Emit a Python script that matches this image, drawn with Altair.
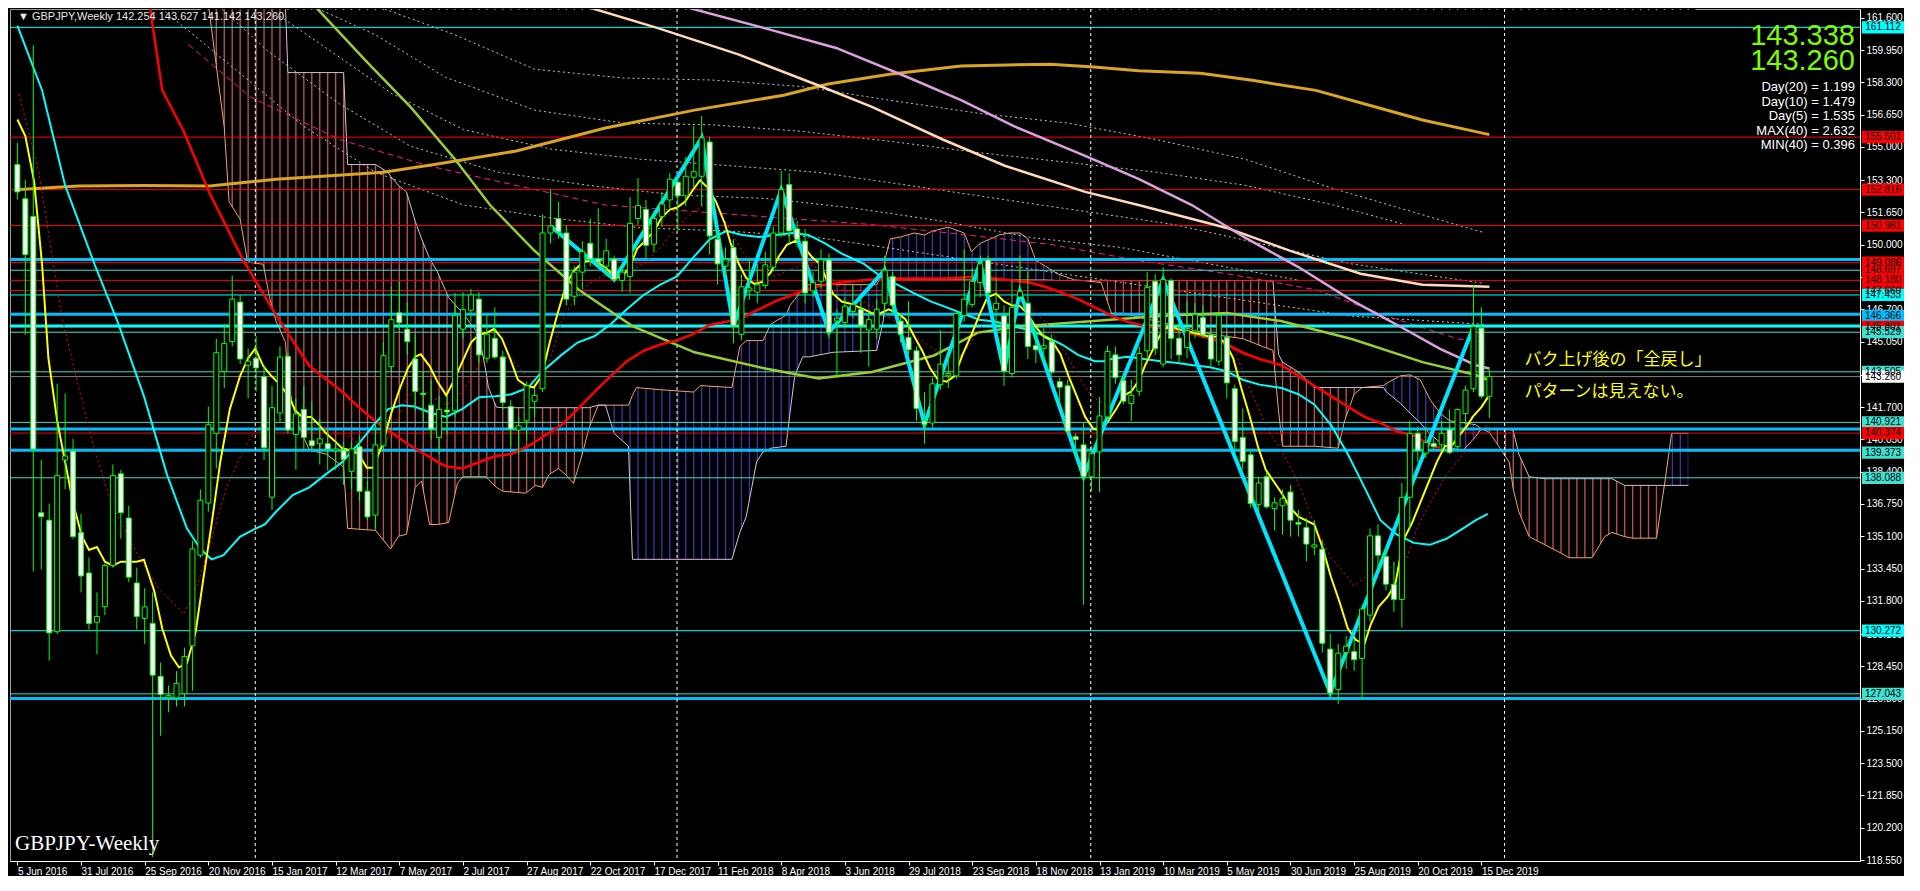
import altair as alt
import pandas as pd

W, H = 1850, 852
X_DOMAIN = [-0.3, 230.95]
Y_DOMAIN = [118.50, 162.05]

# ---------------- weekly candles (week 0 = 5 Jun 2016) ----------------
opens = [154.1, 152.35, 151.45, 136.3, 135.92, 130.22, 139.0, 139.45, 135.29, 133.22,
         130.7, 131.5, 133.6, 138.29, 136.03, 132.71, 130.9, 130.64, 127.94, 126.85,
         126.84, 127.05, 129.5, 134.13, 136.8, 140.36, 143.53, 145.05, 147.07, 143.84,
         144.2, 143.27, 137.1, 141.4, 144.3, 140.3, 141.58, 139.98, 139.83, 139.83,
         139.47, 139.51, 138.42, 139.68, 137.4, 136.18, 139.72, 143.78, 146.52, 145.68,
         144.16, 142.41, 141.8, 140.15, 141.55, 141.52, 145.68, 146.65, 147.22, 144.2,
         145.22, 144.26, 141.73, 140.53, 141.0, 142.0, 142.64, 150.6, 151.34, 150.6,
         147.37, 148.6, 150.07, 149.27, 148.9, 149.27, 148.17, 148.38, 151.34, 151.8,
         150.03, 151.45, 152.29, 153.2, 152.5, 153.45, 153.5, 155.25, 150.28, 148.91,
         149.86, 145.43, 147.65, 147.58, 147.92, 148.85, 150.6, 153.07, 150.81, 150.18,
         147.64, 148.13, 149.23, 146.1, 146.02, 146.59, 146.7, 145.64, 145.68, 147.01,
         148.38, 146.1, 145.26, 144.58, 140.99, 140.89, 142.85, 143.3, 143.3, 146.38,
         146.95, 148.07, 149.23, 146.7, 146.38, 143.42, 147.33, 147.01, 144.84, 144.7,
         145.05, 143.0, 142.79, 140.19, 139.77, 138.14, 139.41, 141.2, 144.37, 143.06,
         141.88, 142.51, 144.58, 148.13, 143.9, 148.17, 145.22, 144.75, 145.6, 146.27,
         145.39, 144.05, 145.26, 142.64, 140.15, 139.26, 136.73, 138.14, 136.51, 136.66,
         137.36, 135.8, 135.54, 134.55, 134.44, 129.33, 127.26, 129.16, 129.2, 128.85,
         131.07, 135.12, 134.07, 132.65, 131.87, 137.09, 140.36, 139.34, 139.85, 139.77,
         140.57, 139.68, 141.37, 142.64, 145.74, 142.254]
highs = [155.2, 153.3, 160.2, 139.0, 136.77, 142.9, 142.4, 140.08, 136.24, 134.02,
         132.23, 133.7, 138.77, 138.5, 136.66, 133.5, 132.44, 132.23, 128.64, 127.47,
         128.2, 129.4, 134.87, 137.5, 141.73, 145.2, 145.95, 148.43, 147.43, 144.69,
         145.32, 143.84, 142.79, 144.8, 144.48, 142.15, 142.79, 142.0, 141.1, 140.57,
         139.94, 139.94, 139.94, 140.25, 137.93, 140.89, 145.0, 147.85, 148.13, 147.07,
         145.43, 143.53, 143.1, 142.26, 142.3, 147.54, 147.58, 147.75, 147.58, 146.48,
         146.8, 144.58, 142.05, 141.2, 143.0, 142.68, 151.55, 152.82, 152.2, 151.0,
         148.9, 150.18, 151.34, 151.87, 150.3, 149.44, 149.02, 152.44, 153.41, 152.29,
         151.76, 152.71, 153.66, 153.45, 154.5, 156.09, 156.58, 155.52, 150.81, 149.86,
         150.28, 148.49, 149.33, 149.02, 149.65, 150.92, 153.77, 153.66, 151.23, 150.81,
         148.6, 149.76, 149.55, 146.7, 147.33, 147.96, 147.22, 146.59, 147.22, 149.44,
         148.6, 146.48, 147.12, 144.8, 142.47, 143.21, 145.64, 144.37, 146.59, 149.76,
         148.8, 149.34, 149.44, 148.28, 146.9, 148.17, 149.44, 148.63, 145.74, 145.74,
         145.43, 143.21, 143.1, 140.36, 140.89, 139.72, 142.22, 144.84, 144.8, 143.32,
         143.1, 144.8, 148.6, 148.49, 148.85, 148.28, 146.06, 147.12, 147.01, 146.9,
         145.74, 146.48, 145.43, 142.85, 141.63, 139.56, 138.14, 138.35, 137.09, 137.5,
         137.72, 136.45, 136.03, 135.92, 134.87, 130.11, 129.59, 130.01, 129.8, 131.6,
         135.5, 135.71, 134.55, 133.81, 137.82, 140.99, 140.68, 140.68, 140.15, 140.99,
         141.58, 141.63, 142.79, 147.96, 146.8, 143.627]
lows = [152.3, 145.4, 133.3, 133.4, 128.74, 130.1, 137.5, 134.97, 132.23, 130.33,
        129.06, 131.07, 133.5, 134.97, 132.75, 130.33, 129.6, 118.7, 124.9, 126.1,
        126.4, 126.4, 127.2, 134.0, 136.35, 138.56, 142.68, 144.8, 143.9, 142.15,
        142.5, 138.99, 136.45, 140.9, 140.36, 138.5, 139.5, 139.4, 138.77, 138.46,
        138.5, 137.72, 137.5, 136.9, 135.92, 135.5, 139.5, 143.5, 145.64, 144.37,
        141.52, 141.0, 140.04, 139.3, 140.3, 141.2, 145.2, 146.06, 143.95, 143.95,
        144.16, 141.6, 139.7, 139.3, 140.04, 141.2, 142.47, 150.07, 150.3, 146.9,
        146.9, 147.75, 148.9, 148.8, 148.38, 148.07, 147.58, 147.54, 151.02, 149.33,
        149.61, 150.92, 151.76, 150.7, 151.97, 152.9, 151.97, 149.5, 147.96, 148.38,
        144.96, 145.11, 147.2, 147.01, 147.75, 148.64, 150.39, 150.07, 149.86, 147.01,
        147.33, 147.8, 145.22, 143.2, 145.74, 146.27, 144.48, 143.78, 145.22, 146.31,
        146.38, 145.0, 144.37, 140.99, 139.83, 140.67, 142.57, 142.68, 143.15, 146.06,
        146.8, 147.33, 147.22, 145.9, 142.79, 143.21, 147.12, 144.16, 143.95, 143.95,
        143.32, 141.84, 140.36, 139.09, 131.6, 137.4, 137.36, 140.99, 142.89, 141.84,
        140.99, 142.26, 144.27, 144.37, 143.74, 144.16, 143.95, 144.2, 145.22, 145.22,
        143.78, 143.84, 142.15, 139.51, 138.5, 136.56, 136.35, 136.52, 135.4, 135.18,
        135.08, 135.08, 133.81, 134.13, 129.16, 126.84, 126.52, 128.32, 128.22, 126.74,
        130.75, 133.39, 132.33, 131.24, 130.43, 135.46, 138.88, 139.09, 139.51, 139.51,
        139.3, 139.51, 140.78, 142.47, 142.15, 141.142]
closes = [152.7, 149.5, 139.56, 136.1, 130.16, 138.2, 139.2, 135.08, 133.07, 130.64,
          131.0, 133.6, 138.2, 136.3, 133.01, 131.0, 131.49, 128.0, 127.01, 126.95,
          127.58, 128.95, 134.45, 136.94, 140.8, 144.48, 144.96, 147.22, 144.16, 144.05,
          143.7, 139.62, 141.67, 144.26, 140.53, 141.35, 140.15, 139.73, 140.08, 139.56,
          139.56, 139.03, 139.56, 137.4, 136.09, 139.77, 144.33, 146.17, 146.02, 145.05,
          142.5, 142.35, 140.57, 141.58, 141.45, 146.38, 146.7, 147.43, 144.37, 145.43,
          144.26, 141.94, 140.57, 140.74, 142.79, 142.3, 150.6, 150.96, 150.66, 147.22,
          148.6, 149.65, 149.27, 149.12, 149.69, 148.22, 148.6, 151.09, 152.0, 149.97,
          151.34, 152.08, 153.35, 152.5, 153.5, 153.73, 155.46, 150.45, 149.02, 149.23,
          145.85, 147.85, 147.79, 147.96, 148.97, 150.6, 152.82, 150.71, 150.28, 147.54,
          148.07, 149.23, 145.53, 146.25, 146.86, 146.95, 145.85, 146.17, 146.7, 148.7,
          146.9, 145.43, 144.63, 141.63, 140.82, 142.89, 143.9, 143.42, 146.48, 147.22,
          148.13, 149.02, 147.54, 147.01, 143.53, 146.8, 147.6, 144.8, 144.63, 144.84,
          143.49, 142.72, 140.46, 140.04, 138.14, 139.34, 141.25, 144.54, 143.21, 142.0,
          142.3, 144.44, 147.81, 144.69, 148.22, 145.22, 144.37, 145.6, 146.44, 145.39,
          144.16, 146.38, 142.94, 139.94, 138.92, 136.77, 137.82, 136.6, 136.81, 137.02,
          135.92, 135.72, 134.7, 134.66, 129.63, 127.09, 129.12, 129.48, 128.79, 131.38,
          135.12, 134.13, 132.65, 131.87, 137.09, 140.36, 139.47, 139.9, 139.68, 140.36,
          139.39, 141.58, 142.57, 145.81, 142.26, 143.26]
weeks = list(range(len(opens)))

date_ticks = list(range(0, 185, 8))
date_labels = ["5 Jun 2016", "31 Jul 2016", "25 Sep 2016", "20 Nov 2016", "15 Jan 2017",
               "12 Mar 2017", "7 May 2017", "2 Jul 2017", "27 Aug 2017", "22 Oct 2017",
               "17 Dec 2017", "11 Feb 2018", "8 Apr 2018", "3 Jun 2018", "29 Jul 2018",
               "23 Sep 2018", "18 Nov 2018", "13 Jan 2019", "10 Mar 2019", "5 May 2019",
               "30 Jun 2019", "25 Aug 2019", "20 Oct 2019", "15 Dec 2019"]
price_ticks = [118.55, 120.2, 121.85, 123.5, 125.15, 126.8, 128.45, 130.1, 131.8, 133.45,
               135.1, 136.75, 138.4, 140.05, 141.7, 143.35, 145.05, 146.7, 148.35, 150.0,
               151.65, 153.3, 155.0, 156.65, 158.3, 159.95, 161.6]

# ---------------- moving averages ----------------
yellow_w = [0, 1.0, 2.1, 3.1, 3.9, 5.0, 6.0, 7.0, 8.1, 9.0, 10.0, 11.0, 12.0, 13.0, 14.1, 15.0, 15.9,
            17.2, 18.2, 19.3, 20.3, 21.3, 22.4, 23.4, 24.4, 25.5, 26.7, 28.0, 29.0, 29.9, 30.9, 31.9,
            32.9, 34.0, 35.0, 35.8, 36.9, 37.9, 38.7, 39.8, 40.8, 41.8, 42.9, 43.9, 44.7, 45.8, 47.0,
            48.1, 49.1, 50.1, 50.7, 51.8, 52.8, 53.9, 54.9, 55.9, 57.0, 58.0, 59.0, 59.9, 60.9, 61.9,
            62.9, 63.9, 64.9, 65.9, 66.9, 67.9, 69.0, 70.0, 71.1, 72.1, 72.9, 74.0, 75.0, 75.8, 76.9,
            77.9, 78.9, 80.0, 81.0, 82.0, 82.9, 83.9, 84.9, 85.8, 86.8, 87.8, 88.9, 89.7, 90.7, 91.6,
            92.6, 93.6, 94.7, 95.7, 96.7, 97.8, 98.8, 99.8, 100.9, 101.7, 102.5, 103.6, 104.6, 106.4,
            107.4, 108.5, 109.5, 110.6, 111.6, 112.6, 113.7, 114.7, 115.7, 116.8, 117.8, 118.8, 119.9,
            120.9, 121.9, 123.0, 124.0, 125.0, 125.9, 126.9, 127.9, 129.0, 130.0, 131.1, 132.1, 133.1,
            134.2, 135.2, 136.2, 137.1, 138.1, 139.1, 140.0, 141.0, 141.8, 142.9, 143.9, 144.9, 145.8,
            146.8, 147.8, 148.9, 149.9, 150.7, 151.8, 152.8, 153.8, 154.9, 155.9, 156.9, 158.9, 159.9,
            161.0, 162.0, 163.0, 164.1, 165.1, 166.2, 167.2, 168.2, 169.3, 170.1, 171.1, 172.2, 173.2,
            174.2, 175.3, 176.3, 177.3, 178.4, 179.4, 180.4, 181.5, 182.3, 182.9, 184.0, 184.8]
yellow_v = [156.4, 155.56, 153.24, 149.0, 144.2, 141.0, 138.9, 136.8, 135.1, 134.4, 134.55, 133.8, 133.6,
            133.8, 133.8, 133.8, 133.9, 132.3, 130.4, 129.0, 128.4, 128.6, 130.2, 133.0, 135.7, 138.9,
            141.6, 143.3, 144.2, 144.7, 143.8, 143.3, 142.9, 142.3, 141.5, 141.2, 141.2, 140.8, 140.4,
            140.0, 139.6, 139.5, 139.3, 138.6, 138.6, 139.7, 141.4, 142.7, 143.7, 144.3, 144.4, 143.8,
            143.0, 142.3, 143.1, 144.0, 145.0, 145.4, 145.5, 145.7, 145.2, 144.2, 143.1, 142.8, 142.7,
            143.3, 145.0, 146.5, 148.0, 148.7, 149.1, 149.2, 149.1, 148.8, 148.4, 148.3, 148.8, 149.8,
            150.2, 150.7, 151.4, 151.8, 151.9, 152.2, 152.8, 153.3, 152.9, 152.2, 151.1, 150.0, 149.0,
            148.3, 148.0, 148.1, 148.6, 149.4, 150.0, 150.2, 149.9, 149.4, 149.0, 148.2, 147.5, 147.1,
            147.0, 146.7, 146.5, 146.5, 146.7, 146.5, 146.2, 145.4, 144.6, 143.7, 143.1, 143.0, 143.3,
            144.4, 145.4, 146.4, 147.3, 147.5, 147.1, 146.9, 146.9, 146.5, 145.85, 145.3, 145.1, 144.4,
            143.3, 142.3, 141.2, 140.6, 140.5, 141.0, 141.6, 142.3, 142.5, 143.1, 143.9, 144.8, 145.6,
            145.85, 145.7, 145.6, 145.5, 145.4, 145.3, 145.3, 145.0, 144.2, 142.7, 141.2, 139.7, 138.5,
            137.3, 136.6, 136.1, 135.9, 135.7, 134.44, 133.0, 131.7, 130.4, 129.8, 129.6, 130.6, 131.5,
            132.0, 132.7, 134.9, 135.8, 136.8, 137.8, 138.9, 139.7, 139.8, 140.4, 140.8, 141.2, 141.7,
            142.2]

cyan_w = [0, 3.1, 6.0, 9.7, 12.6, 15.9, 18.8, 21.3, 23.0, 24.4, 25.9, 28.0, 30.0, 31.1, 32.5, 34.6,
          36.7, 38.7, 40.8, 42.9, 45.0, 46.6, 48.3, 49.9, 52.0, 53.9, 55.9, 58.0, 60.1, 62.1, 64.2,
          65.9, 68.4, 70.4, 72.5, 74.6, 76.6, 78.7, 80.8, 82.9, 84.9, 87.0, 89.1, 91.1, 93.2, 95.3,
          97.4, 99.4, 101.5, 103.6, 106.4, 108.5, 110.6, 112.6, 114.7, 116.8, 118.8, 120.9, 123.0,
          125.0, 127.1, 129.2, 131.3, 133.3, 135.4, 136.6, 137.5, 139.5, 141.6, 143.7, 145.8, 147.8,
          149.9, 152.0, 154.0, 156.1, 158.9, 161.0, 163.0, 165.1, 167.2, 169.3, 171.3, 173.4, 175.5,
          177.5, 179.6, 181.7, 183.3, 184.8]
cyan_v = [161.2, 157.9, 153.03, 149.0, 146.06, 142.26, 138.25, 135.5, 134.45, 133.92, 134.13, 135.08,
          135.5, 135.7, 136.35, 137.2, 137.6, 138.25, 138.88, 139.83, 140.89, 141.6, 141.8, 141.73,
          141.4, 141.2, 141.6, 142.2, 142.26, 142.36, 142.7, 143.5, 144.37, 145.0, 145.32, 145.95,
          146.7, 147.43, 147.96, 148.38, 149.33, 150.28, 150.7, 150.5, 150.39, 150.5, 150.6, 150.5,
          150.07, 149.55, 149.02, 148.38, 147.96, 147.54, 147.12, 146.8, 146.48, 146.17, 146.06,
          145.85, 145.64, 145.32, 144.9, 144.37, 144.05, 144.05, 144.16, 144.27, 144.16, 144.05,
          143.95, 143.84, 143.74, 143.53, 143.1, 142.85, 142.68, 142.36, 141.84, 140.78, 139.3,
          137.6, 135.92, 135.18, 134.76, 134.66, 134.97, 135.5, 135.92, 136.24]

red_w = [16.5, 18.2, 20.9, 24.2, 28.4, 32.5, 36.7, 40.8, 42.9, 44.9, 47.0, 49.1, 51.2, 52.8, 53.9,
         55.9, 58.0, 60.1, 62.1, 64.2, 66.3, 68.4, 70.4, 72.5, 74.6, 76.6, 78.7, 80.8, 82.9, 84.9,
         87.0, 89.1, 91.1, 93.2, 95.3, 97.4, 99.4, 101.5, 103.6, 108.5, 112.6, 116.8, 120.9, 125.0,
         127.1, 129.2, 131.3, 133.3, 135.4, 137.5, 139.5, 141.6, 143.7, 145.8, 147.8, 149.9, 152.0,
         154.0, 156.1, 158.9, 161.0, 163.0, 165.1, 167.2, 169.3, 171.3, 173.4, 175.5, 177.5, 178.8]
red_v = [162.6, 157.9, 155.8, 152.6, 149.2, 146.4, 143.8, 142.5, 141.7, 141.0, 140.4, 139.8, 139.3,
         138.9, 138.67, 138.56, 138.88, 139.2, 139.3, 139.7, 140.25, 140.78, 141.6, 142.47, 143.3,
         144.05, 144.58, 144.9, 145.11, 145.43, 145.9, 146.06, 146.27, 146.7, 147.12, 147.43, 147.75,
         147.96, 148.07, 148.28, 148.28, 148.28, 148.38, 148.17, 148.07, 147.85, 147.54, 147.22,
         146.8, 146.38, 146.06, 145.85, 145.74, 145.64, 145.43, 145.22, 144.9, 144.48, 144.16,
         143.84, 143.3, 142.79, 142.26, 141.73, 141.2, 140.89, 140.46, 140.25, 139.77, 139.62]

reddot_w = [0.2, 2.7, 5.6, 7.7, 9.7, 11.8, 13.9, 15.9, 18.0, 20.1, 20.9, 22.6, 24.2, 26.3, 28.4, 30.0,
            31.7, 33.8, 35.8, 37.9, 40.0, 42.0, 44.1, 45.8, 47.4, 49.1, 50.7, 52.4, 53.9, 55.9, 58.0,
            60.1, 62.1, 64.2, 65.5, 66.3, 68.4, 70.4, 72.5, 74.6, 76.6, 78.7, 80.8, 82.9, 84.9, 87.0,
            89.1, 91.1, 93.2, 95.3, 97.4, 99.4, 101.5, 103.6, 108.5, 112.6, 116.8, 118.8, 120.9, 123.0,
            125.0, 127.1, 129.2, 131.3, 133.3, 135.0, 136.6, 138.7, 140.8, 142.9, 144.9, 147.0, 149.1,
            151.1, 153.2, 155.3, 157.4, 158.9, 161.0, 163.0, 165.1, 167.2, 168.0, 169.3, 171.3, 173.4,
            174.6, 175.9, 177.5, 179.6, 181.7, 183.8, 184.8]
reddot_v = [157.7, 153.7, 146.3, 142.7, 139.5, 136.8, 135.1, 133.6, 132.3, 131.5, 131.1, 132.6, 134.7,
            137.6, 139.5, 140.6, 141.0, 141.1, 141.0, 140.7, 140.4, 140.15, 139.3, 139.5, 140.8, 142.26,
            142.68, 142.15, 141.8, 142.47, 143.84, 144.37, 144.16, 143.2, 142.68, 143.3, 146.06, 147.54,
            148.17, 148.6, 148.6, 149.02, 149.86, 150.92, 151.66, 152.2, 151.13, 149.65, 148.7, 148.38,
            148.8, 149.02, 148.6, 147.75, 146.6, 145.43, 144.16, 144.37, 145.64, 146.9, 147.33, 146.9,
            146.06, 144.8, 143.3, 142.26, 141.84, 142.26, 143.3, 144.37, 145.2, 145.64, 145.74, 145.64,
            144.37, 142.26, 140.36, 139.5, 137.8, 135.7, 134.0, 133.0, 132.55, 133.0, 133.0, 133.8,
            134.0, 135.5, 136.77, 138.25, 139.3, 140.57, 140.78]

ygreen_w = [37.6, 43.8, 49.4, 55.0, 59.4, 65.0, 70.6, 77.3, 85.1, 94.0, 100.7, 107.4, 115.2, 120.7,
            126.4, 135.3, 143.1, 152.0, 158.8, 167.7, 176.6, 183.3, 184.8]
ygreen_v = [162.1, 159.4, 157.05, 154.37, 152.03, 149.69, 147.69, 145.84, 144.5, 143.67, 143.17, 143.5,
            144.34, 145.51, 145.84, 146.1, 146.35, 146.51, 146.1, 145.18, 144.0, 143.34, 143.1]

orange_w = [0.2, 7.7, 15.9, 24.2, 32.5, 40.8, 46.0, 52.8, 62.7, 73.9, 85.1, 96.3, 101.9, 109.6, 118.6,
            129.8, 135.3, 140.9, 148.7, 155.4, 163.2, 169.9, 176.6, 185.0]
orange_v = [152.82, 153.0, 153.03, 153.0, 153.35, 153.56, 153.7, 154.13, 154.79, 155.97, 156.88, 157.64,
            158.22, 158.72, 159.14, 159.23, 159.09, 158.89, 158.76, 158.39, 157.89, 157.13, 156.38,
            155.63]

plum_w = [84.0, 94.0, 102.9, 111.9, 118.6, 125.3, 134.2, 140.9, 147.6, 154.3, 161.0, 167.6, 174.4,
          178.8, 183.3, 185.0]
plum_v = [162.15, 161.06, 160.06, 158.56, 157.39, 156.05, 154.54, 153.37, 152.03, 150.36, 148.86, 147.18,
          145.68, 144.68, 143.84, 143.67]

bisque_w = [71.7, 80.6, 90.6, 100.7, 107.4, 116.3, 124.1, 134.2, 140.9, 152.0, 159.9, 168.8, 176.6,
            185.0]
bisque_v = [162.15, 161.06, 159.73, 158.14, 157.05, 155.38, 154.04, 152.7, 152.03, 150.86, 149.7, 148.52,
            147.95, 147.85]

magenta_w = [21.5, 29.3, 40.5, 51.6, 62.7, 73.9, 85.1, 96.3, 107.4, 118.6, 129.8, 140.9, 152.0, 163.3,
             172.1, 181.1, 184.4]
magenta_v = [160.23, 157.55, 155.38, 154.04, 153.03, 152.03, 151.7, 151.36, 151.03, 150.53, 150.02,
             149.19, 148.52, 147.69, 146.35, 145.18, 145.0]

# dotted grey envelope lines
grey_a_w = [43.8, 55.0, 65.0, 76.2, 87.3, 98.5, 109.6, 120.8, 132.0, 143.1, 154.3, 165.4, 176.6, 184.4]
grey_a_v = [162.4, 160.73, 158.97, 158.52, 158.42, 158.09, 157.39, 156.72, 156.22, 155.38, 154.37,
            152.87, 151.53, 150.61]
grey_b_w = [36.0, 45.0, 53.8, 65.0, 76.2, 87.3, 98.5, 109.6, 120.8, 132.0, 143.1, 154.3, 165.4, 174.4]
grey_b_v = [162.4, 160.73, 158.56, 156.88, 156.22, 156.13, 155.8, 155.29, 154.71, 154.21, 153.71, 153.04,
            152.03, 151.03]
grey_c_w = [30.4, 38.2, 47.1, 56.1, 67.2, 78.4, 89.5, 100.7, 111.9, 123.0, 134.2, 145.4, 156.5, 167.7,
            184.4]
grey_c_v = [162.4, 160.23, 157.72, 155.88, 154.88, 154.37, 154.04, 153.7, 153.04, 152.37, 151.7, 151.03,
            150.03, 149.02, 148.02]
grey_d_w = [24.8, 31.5, 40.4, 49.4, 60.5, 71.7, 82.9, 94.0, 105.2, 116.3, 127.5, 138.7, 149.8, 161.0]
grey_d_v = [162.4, 159.89, 157.22, 155.04, 153.7, 153.04, 152.54, 152.37, 151.87, 151.2, 150.36, 149.86,
            149.02, 148.19]
grey_e_w = [18.1, 27.1, 36.0, 45.0, 56.1, 67.2, 78.4, 89.5, 100.7, 111.9, 123.0, 134.2, 145.4, 156.5,
            167.7, 184.4]
grey_e_v = [162.07, 159.06, 156.05, 153.7, 152.03, 151.36, 150.86, 150.7, 150.36, 149.69, 149.02, 148.35,
            147.68, 147.02, 146.35, 145.93]

zig_w = [67, 75, 86, 90, 96, 102, 109, 114, 121, 124, 126, 134, 144, 165, 183]
zig_v = [150.96, 148.22, 155.46, 145.85, 152.82, 145.53, 148.7, 140.82, 149.1, 143.53, 147.6, 138.14,
         148.22, 127.09, 145.81]

# ---------------- Ichimoku cloud: one list per cloud segment ----------------
cloud_w = [
    [24, 26, 26.6, 28, 28.9, 29.3, 30.9, 31.7, 32.5, 33.7, 34.0, 34.6, 35.5, 36.7, 38.8, 40.8, 41.0,
     41.5, 45.0, 46.6, 46.9, 47.9, 48.9, 50.0, 50.8, 51.8, 52.8, 54.2, 55.3, 56.0, 58.0, 58.9, 59.2,
     60.2, 61.0, 63.9, 65.1, 66.0, 66.8, 68.0, 68.9, 69.9, 71.0, 71.8, 73.0],
    [73.0, 73.9, 75.0, 76.8, 77.3, 77.8, 80.5, 85.0, 85.8, 89.8, 90.8, 91.6, 92.3, 92.9, 93.7, 94.7,
     96.6, 97.1, 97.7, 98.7, 99.5, 102.5, 108.0, 108.8, 109.2, 109.7, 111.0, 112.7, 114.0, 115.0,
     116.0, 117.0, 119.0, 119.9, 121.0, 123.4, 124.6, 126.0, 127.0, 128.0, 129.2, 130.8, 132.9, 134.0],
    [134.0, 136.2, 137.0, 137.5, 138.8, 145.8, 150.0, 154.0, 156.5, 157.8, 158.5, 159.0, 161.0, 163.0,
     166.0, 166.8, 168.0, 169.0],
    [169.0, 171.7, 172.0, 173.8, 175.0, 176.3, 177.6, 178.8, 180.0, 181.7, 183.3, 184.0],
    [184.0, 185.0, 185.8, 187.5, 188.0, 188.7, 190.0, 192.0, 194.0, 195.0, 197.9, 199.5, 200.4, 202.0,
     203.0, 206.0, 206.8, 207.0],
    [207.0, 207.9, 210.0],
]
cloud_a = [
    [162.3, 156.0, 152.2, 151.3, 149.2, 149.1, 149.0, 147.3, 146.1, 145.0, 143.1, 141.8, 140.6, 139.5,
     139.3, 138.7, 138.6, 135.5, 135.4, 134.6, 134.45, 135.1, 135.2, 137.6, 137.93, 135.7, 135.7, 135.8,
     137.8, 138.14, 138.14, 138.14, 138.0, 137.6, 137.4, 137.3, 137.7, 137.6, 138.25, 138.56, 138.25,
     137.8, 139.3, 140.57, 141.8],
    [141.8, 141.8, 141.8, 141.8, 142.3, 142.7, 142.6, 142.47, 142.8, 142.7, 144.8, 145.1, 145.1, 145.1,
     145.1, 145.95, 146.4, 146.9, 147.2, 147.75, 147.96, 147.96, 147.96, 148.5, 149.5, 150.3, 150.4,
     150.6, 150.5, 150.7, 150.8, 150.9, 150.6, 149.65, 150.07, 150.5, 150.6, 150.6, 150.3, 149.2, 148.9,
     148.5, 148.2, 148.17],
    [148.17, 148.07, 147.1, 146.5, 146.5, 145.85, 145.43, 145.2, 144.8, 144.6, 141.5, 139.7, 139.7, 139.7,
     139.6, 141.0, 142.36, 142.7],
    [142.7, 142.8, 142.9, 143.3, 143.35, 143.1, 142.05, 141.4, 141.0, 140.9, 140.8, 140.6],
    [140.6, 140.4, 139.93, 138.88, 137.5, 136.35, 135.08, 134.66, 134.24, 134.0, 134.0, 135.08, 135.3,
     135.08, 135.0, 135.0, 137.2, 137.7],
    [137.7, 140.36, 140.36],
]
cloud_b = [
    [162.3, 163, 163, 163, 163, 162.07, 162.07, 162.07, 162.07, 162.07, 158.8, 158.8, 158.8, 158.8, 158.8,
     158.8, 158.8, 154.1, 154.1, 153.7, 153.5, 153.03, 152.7, 151.2, 150.3, 149.3, 148.6, 147.3, 146.8,
     146.5, 145.4, 143.5, 142.7, 141.7, 141.67, 141.67, 141.67, 141.67, 141.67, 141.67, 141.67, 141.67,
     141.67, 141.67, 141.8],
    [141.8, 141.8, 140.36, 139.7, 133.92, 133.92, 133.92, 133.92, 133.92, 133.92, 135.3, 136.1, 137.6,
     138.9, 139.4, 139.6, 139.7, 141.4, 143.3, 144.27, 144.27, 144.5, 144.6, 146.06, 147.75, 148.2, 148.2,
     148.2, 148.2, 148.2, 148.2, 148.2, 148.2, 148.2, 148.2, 148.2, 148.2, 148.2, 148.2, 148.2, 148.2,
     148.17, 148.17, 148.17],
    [148.17, 148.17, 148.17, 148.17, 148.17, 148.17, 148.17, 148.17, 148.17, 148.17, 144.4, 144.0, 143.5,
     142.7, 142.7, 142.7, 142.7, 142.7],
    [142.7, 142.7, 142.5, 141.9, 141.4, 140.9, 140.3, 139.9, 139.6, 139.5, 140.2, 140.6],
    [140.6, 140.6, 140.57, 140.57, 140.5, 139.3, 138.14, 138.04, 138.04, 138.04, 138.04, 138.04, 138.04,
     137.7, 137.7, 137.7, 137.7, 137.7],
    [137.7, 137.7, 137.7],
]
cloud_fill = ["#B8524C", "#3636A6", "#B8524C", "#3636A6", "#B8524C", "#3636A6"]
hatch_first, hatch_last = 23, 211

year_sep = [29.9, 82.9, 134.9, 186.9]

# ---------------- horizontal price lines ----------------
hl_price = [161.112, 155.501, 152.816, 150.981, 149.086, 148.697, 148.180, 147.660, 147.433,
            145.801, 145.529, 143.505, 143.260, 140.921, 140.374, 138.088, 130.272, 127.043,
            149.25, 146.45, 145.85, 140.58, 139.50, 126.81]
hl_color = ["#00FFFF", "#FF0000", "#FF0000", "#FF0000", "#FF0000", "#40E0D0", "#FF0000", "#FF0000",
            "#00FFFF", "#FF0000", "#40E0D0", "#40E0D0", "#808080", "#40E0D0", "#FF0000", "#40E0D0",
            "#00FFFF", "#40E0D0",
            "#00BFFF", "#00BFFF", "#00FFFF", "#00BFFF", "#00BFFF", "#00BFFF"]
hl_width = [1] * 18 + [3] * 6

lab_price = [161.112, 155.501, 152.816, 150.981, 149.086, 148.697, 148.180, 147.660, 147.433, 146.366,
             145.801, 145.529, 143.505, 143.260, 140.921, 140.374, 139.373, 138.088, 130.272, 127.043]
lab_bg = ["#00FFFF", "#FF0000", "#FF0000", "#FF0000", "#FF0000", "#FF0000", "#FF0000", "#FF0000",
          "#00FFFF", "#00BFFF", "#FF0000", "#40E0D0", "#40E0D0", "#FFFFFF", "#40E0D0", "#FF0000",
          "#40E0D0", "#40E0D0", "#00FFFF", "#40E0D0"]

header = "▼ GBPJPY,Weekly  142.254 143.627 141.142 143.260"
big_prices = ["143.338", "143.260"]
info_lines = ["Day(20) = 1.199", "Day(10) = 1.479", "Day(5) = 1.535", "MAX(40) = 2.632",
              "MIN(40) = 0.396"]
note_lines = ["バク上げ後の「全戻し」", "パターンは見えない。"]
note_w = [189.4, 189.4]
note_p = [144.09, 142.48]
symbol_tag = "GBPJPY-Weekly"

# ---------------- chart ----------------
label_expr = "' ' + [" + ",".join("'" + s + "'" for s in date_labels) + "][round(datum.value/8)]"
x_axis = alt.Axis(values=date_ticks, labelExpr=label_expr, labelColor="#FFFFFF", labelFont="Liberation Sans",
                  labelFontSize=10, labelAlign="left", labelBaseline="top", labelPadding=1,
                  tickColor="#FFFFFF", tickSize=4, domainColor="#FFFFFF", grid=False, title=None,
                  labelOverlap=False, labelFlush=False)
y_axis = alt.Axis(orient="right", values=price_ticks, format=".3f", labelColor="#FFFFFF",
                  labelFont="Liberation Sans", labelFontSize=10, tickColor="#FFFFFF", tickSize=4,
                  domainColor="#FFFFFF", labelPadding=2, grid=False, title=None, labelOverlap=False,
                  labelFlush=False)

xs = alt.Scale(domain=X_DOMAIN, nice=False, zero=False)
ys = alt.Scale(domain=Y_DOMAIN, nice=False, zero=False)


def X(f="w"):
    return alt.X(f"{f}:Q", scale=xs, axis=x_axis)


def Y(f="v"):
    return alt.Y(f"{f}:Q", scale=ys, axis=y_axis)


def series_line(ws, vs, color, width, dash=None, opacity=1.0):
    df = pd.DataFrame({"w": list(ws), "v": list(vs)})
    kw = dict(color=color, strokeWidth=width, clip=True, opacity=opacity)
    if dash:
        kw["strokeDash"] = dash
    return alt.Chart(df).mark_line(**kw).encode(x=X(), y=Y())


layers = []

cloud_rows = []
for i, (cw, ca, cb) in enumerate(zip(cloud_w, cloud_a, cloud_b)):
    for w, a, b in zip(cw, ca, cb):
        cloud_rows.append({"w": w, "a": a, "b": b, "seg": i, "fill": cloud_fill[i]})
cdf_cloud = pd.DataFrame(cloud_rows)
layers.append(alt.Chart(cdf_cloud).mark_area(clip=True, fillOpacity=1).encode(
    x=X(), y=Y("a"), y2="b:Q", color=alt.Color("fill:N", scale=None), detail="seg:N"))
# black gaps between weekly hatch lines of the cloud
gap_df = pd.DataFrame({"w": [k + 0.5 for k in range(hatch_first, hatch_last)]})
layers.append(alt.Chart(gap_df).mark_rule(color="#000000", strokeWidth=6.6, clip=True).encode(x=X()))
layers.append(series_line(cdf_cloud["w"], cdf_cloud["a"], "#F4A460", 1))
layers.append(series_line(cdf_cloud["w"], cdf_cloud["b"], "#D8BFD8", 1))

for gw, gv in [(grey_a_w, grey_a_v), (grey_b_w, grey_b_v), (grey_c_w, grey_c_v),
               (grey_d_w, grey_d_v), (grey_e_w, grey_e_v)]:
    layers.append(series_line(gw, gv, "#D8D8D8", 1, dash=[2, 3], opacity=0.9))
layers.append(series_line(magenta_w, magenta_v, "#FF1493", 1, dash=[6, 4]))

hdf = pd.DataFrame({"p": hl_price, "c": hl_color, "s": hl_width})
layers.append(alt.Chart(hdf).mark_rule().encode(
    y=Y("p"), color=alt.Color("c:N", scale=None), strokeWidth=alt.StrokeWidth("s:Q", scale=None)))

sdf = pd.DataFrame({"w": year_sep})
layers.append(alt.Chart(sdf).mark_rule(color="#FFFFFF", strokeDash=[3, 3], strokeWidth=1).encode(x=X()))

layers.append(series_line(orange_w, orange_v, "#DAA520", 3))
layers.append(series_line(bisque_w, bisque_v, "#FFDAB9", 2.5))
layers.append(series_line(plum_w, plum_v, "#DDA0DD", 2.5))
layers.append(series_line(ygreen_w, ygreen_v, "#9ACD32", 2.5))
layers.append(series_line(red_w, red_v, "#FF0000", 2.5))
layers.append(series_line(reddot_w, reddot_v, "#FF0000", 1, dash=[2, 3]))
layers.append(series_line(cyan_w, cyan_v, "#00FFFF", 2))
layers.append(series_line(yellow_w, yellow_v, "#FFFF00", 2))
layers.append(series_line(zig_w, zig_v, "#00E5FF", 4))

cdf = pd.DataFrame({"w": weeks, "o": opens, "h": highs, "l": lows, "c": closes})
cdf["fill"] = ["#000000" if c > o else "#FFFFFF" for o, c in zip(opens, closes)]
layers.append(alt.Chart(cdf).mark_rule(color="#00FF00", strokeWidth=1).encode(
    x=X(), y=Y("l"), y2="h:Q"))
layers.append(alt.Chart(cdf).mark_bar(width=5, stroke="#00FF00", strokeWidth=1).encode(
    x=X(), y=Y("o"), y2="c:Q", fill=alt.Fill("fill:N", scale=None)))

# price tags on the right axis
box_path = "M-1,-0.29L1,-0.29L1,0.29L-1,0.29Z"
ldf = pd.DataFrame({"p": lab_price, "bg": lab_bg})
ldf["t"] = [f"{v:.3f}" for v in lab_price]
layers.append(alt.Chart(ldf).mark_point(shape=box_path, filled=True, size=42 * 42, opacity=1,
                                        strokeWidth=0).encode(
    x=alt.value(W + 23), y=Y("p"), color=alt.Color("bg:N", scale=None)))
layers.append(alt.Chart(ldf).mark_text(font="Liberation Sans", fontSize=10, color="#000000",
                                       align="center", baseline="middle").encode(
    x=alt.value(W + 23), y=Y("p"), text="t:N"))

# texts
layers.append(alt.Chart(pd.DataFrame({"t": [header]})).mark_text(
    font="Liberation Sans", fontSize=11, color="#E8E8E8", align="left", baseline="middle").encode(
    x=alt.value(8), y=alt.value(8), text="t:N"))
for i, s in enumerate(big_prices):
    layers.append(alt.Chart(pd.DataFrame({"t": [s]})).mark_text(
        font="Liberation Sans", fontSize=29, color="#7CFC00", align="right", baseline="middle").encode(
        x=alt.value(W - 5), y=alt.value(27 + 25 * i), text="t:N"))
for i, s in enumerate(info_lines):
    layers.append(alt.Chart(pd.DataFrame({"t": [s]})).mark_text(
        font="Liberation Sans", fontSize=13, color="#FFFFFF", align="right", baseline="middle").encode(
        x=alt.value(W - 5), y=alt.value(78 + 14.6 * i), text="t:N"))
ndf = pd.DataFrame({"w": note_w, "p": note_p, "t": note_lines})
layers.append(alt.Chart(ndf).mark_text(font="Noto Sans CJK JP", fontSize=17, color="#FFFF00",
                                       align="left", baseline="middle").encode(
    x=X(), y=Y("p"), text="t:N"))
layers.append(alt.Chart(pd.DataFrame({"t": [symbol_tag]})).mark_text(
    font="Liberation Serif", fontSize=21, color="#FFFFFF", align="left", baseline="middle").encode(
    x=alt.value(5), y=alt.value(H - 17), text="t:N"))

chart = alt.layer(*layers).properties(
    width=W, height=H, background="#000000", padding=0
).configure_view(stroke="#9A9A9A", strokeWidth=1)

chart.save("out.html", embed_options={"renderer": "svg", "actions": False})
